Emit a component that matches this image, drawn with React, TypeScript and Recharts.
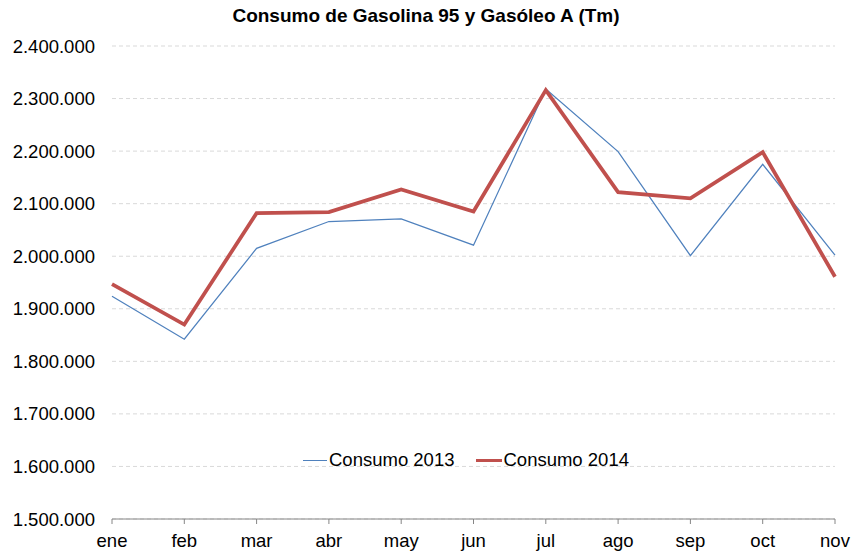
import React from 'react';
import { LineChart, Line, XAxis, YAxis, CartesianGrid } from 'recharts';

const months = ['ene', 'feb', 'mar', 'abr', 'may', 'jun', 'jul', 'ago', 'sep', 'oct', 'nov'];
const consumo2013 = [1924000, 1842000, 2015000, 2066000, 2071000, 2021000, 2318000, 2199000, 2001000, 2175000, 2002000];
const consumo2014 = [1947000, 1870000, 2082000, 2084000, 2127000, 2085000, 2316000, 2122000, 2110000, 2198000, 1961000];
const yTicks = [1500000, 1600000, 1700000, 1800000, 1900000, 2000000, 2100000, 2200000, 2300000, 2400000];
const title = 'Consumo de Gasolina 95 y Gasóleo A (Tm)';
const seriesNames = ['Consumo 2013', 'Consumo 2014'];

const data = months.map((m, i) => ({ month: m, c2013: consumo2013[i], c2014: consumo2014[i] }));

const fmt = (v: number) => String(v).replace(/\B(?=(\d{3})+(?!\d))/g, '.');

const FONT = 'Arial, "Liberation Sans", sans-serif';
const BLUE = '#4F81BD';
const RED = '#C0504D';

export default function App() {
  return (
    <div style={{ position: 'absolute', left: 0, top: 0, width: 852, height: 553, background: '#fff', fontFamily: FONT }}>
      <div style={{ position: 'absolute', left: 0, top: 5, width: 852, textAlign: 'center', fontSize: 19, fontWeight: 'bold', color: '#000' }}>
        {title}
      </div>
      <LineChart width={852} height={553} data={data} margin={{ top: 46, right: 17, bottom: 0, left: 0 }}>
        <CartesianGrid vertical={false} stroke="#D9D9D9" strokeDasharray="4 3" />
        <XAxis
          dataKey="month"
          height={34}
          tickSize={5}
          tickMargin={10}
          stroke="#868686"
          tick={{ fill: '#000', fontSize: 18.5, fontFamily: FONT }}
          interval={0}
        />
        <YAxis
          width={112}
          domain={[1500000, 2400000]}
          ticks={yTicks}
          tickFormatter={fmt}
          axisLine={false}
          tickLine={false}
          tickSize={0}
          tickMargin={17}
          tick={{ fill: '#000', fontSize: 18.5, fontFamily: FONT }}
          interval={0}
        />
        <Line dataKey="c2013" stroke={BLUE} strokeWidth={1.25} dot={false} isAnimationActive={false} />
        <Line dataKey="c2014" stroke={RED} strokeWidth={3.75} dot={false} isAnimationActive={false} />
      </LineChart>
      <div style={{ position: 'absolute', left: 303, top: 449, display: 'flex', alignItems: 'center', fontSize: 18.5, color: '#000', whiteSpace: 'nowrap' }}>
        <span style={{ display: 'inline-block', width: 24, height: 0, borderTop: `1.25px solid ${BLUE}`, marginRight: 2 }} />
        <span>{seriesNames[0]}</span>
        <span style={{ display: 'inline-block', width: 26, height: 0, borderTop: `3.75px solid ${RED}`, marginLeft: 22, marginRight: 1 }} />
        <span>{seriesNames[1]}</span>
      </div>
    </div>
  );
}
